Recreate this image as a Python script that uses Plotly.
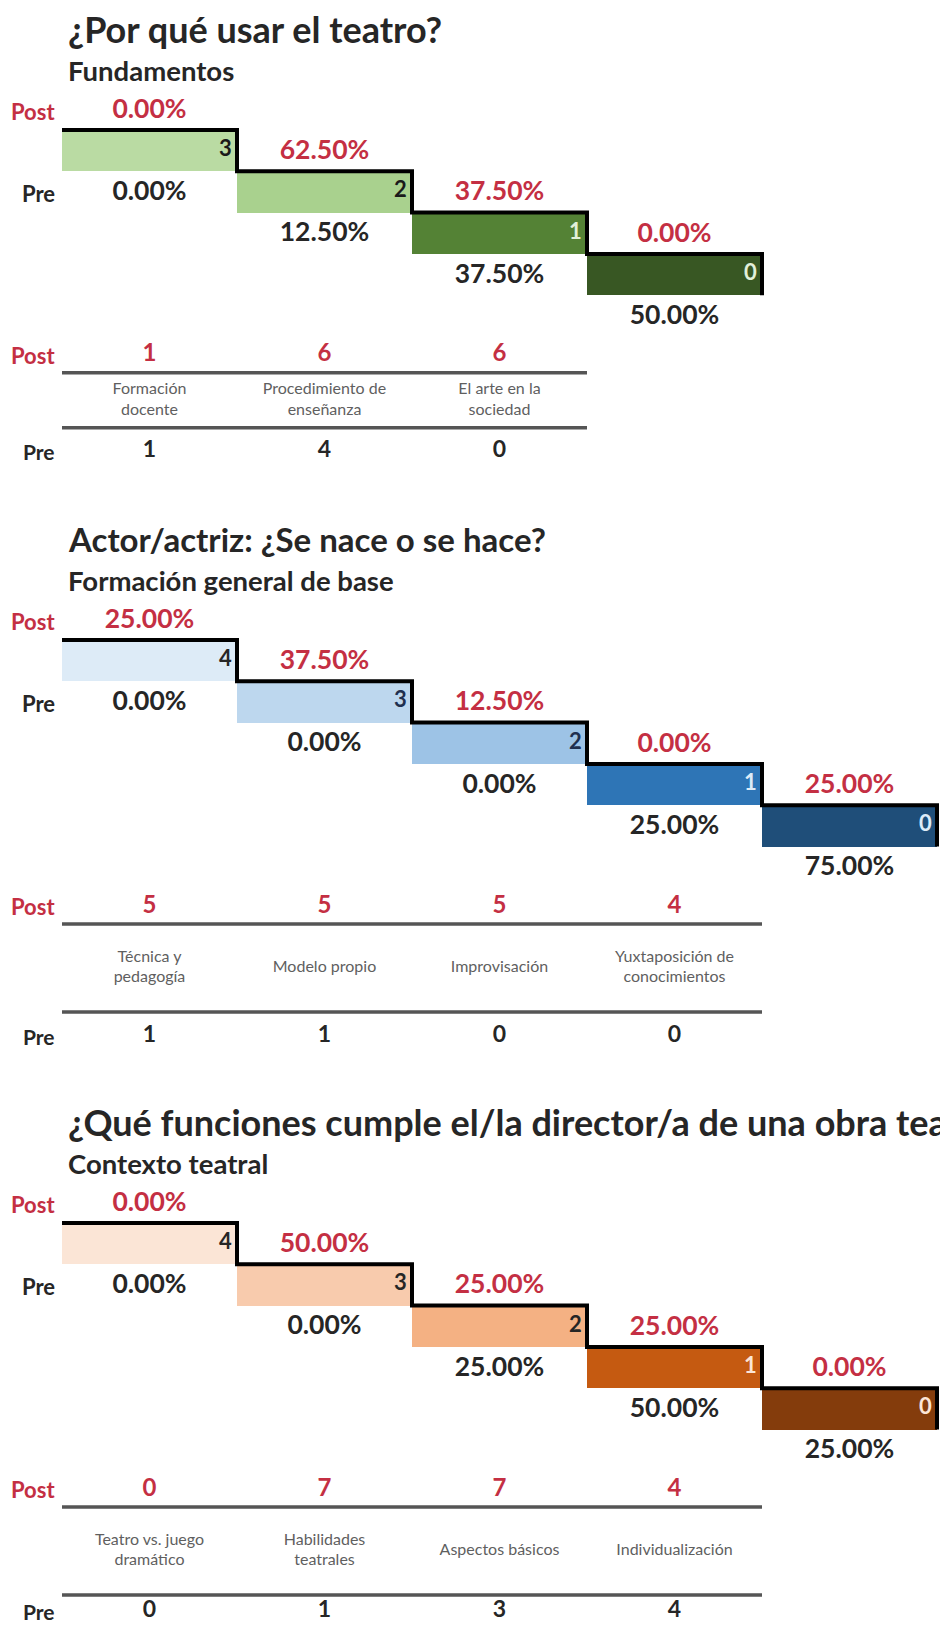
import numpy as np
import plotly.graph_objects as go

# ---------------- DATA ----------------
s1_title = "¿Por qué usar el teatro?"
s1_subtitle = "Fundamentos"
s1_levels = [3, 2, 1, 0]
s1_post_pct = [0.00, 62.50, 37.50, 0.00]
s1_pre_pct = [0.00, 12.50, 37.50, 50.00]
s1_categories = ["Formación<br>docente", "Procedimiento de<br>enseñanza", "El arte en la<br>sociedad"]
s1_post_counts = [1, 6, 6]
s1_pre_counts = [1, 4, 0]

s2_title = "Actor/actriz: ¿Se nace o se hace?"
s2_subtitle = "Formación general de base"
s2_levels = [4, 3, 2, 1, 0]
s2_post_pct = [25.00, 37.50, 12.50, 0.00, 25.00]
s2_pre_pct = [0.00, 0.00, 0.00, 25.00, 75.00]
s2_categories = ["Técnica y<br>pedagogía", "Modelo propio", "Improvisación", "Yuxtaposición de<br>conocimientos"]
s2_post_counts = [5, 5, 5, 4]
s2_pre_counts = [1, 1, 0, 0]

s3_title = "¿Qué funciones cumple el/la director/a de una obra teatral?"
s3_subtitle = "Contexto teatral"
s3_levels = [4, 3, 2, 1, 0]
s3_post_pct = [0.00, 50.00, 25.00, 25.00, 0.00]
s3_pre_pct = [0.00, 0.00, 25.00, 50.00, 25.00]
s3_categories = ["Teatro vs. juego<br>dramático", "Habilidades<br>teatrales", "Aspectos básicos", "Individualización"]
s3_post_counts = [0, 7, 7, 4]
s3_pre_counts = [0, 1, 3, 4]

# ---------------- STYLE ----------------
s1_colors = ["#BADBA3", "#A9D18E", "#548235", "#385723"]
s1_numcolors = ["#1A1A1A", "#1A1A1A", "#E2F0D9", "#E2F0D9"]
s2_colors = ["#DDEBF7", "#BDD7EE", "#9DC3E6", "#2E75B6", "#1F4E79"]
s2_numcolors = ["#262626", "#1F2F4F", "#1F2F4F", "#DDEBF7", "#DDEBF7"]
s3_colors = ["#FBE5D6", "#F8CBAD", "#F4B183", "#C55A11", "#843C0C"]
s3_numcolors = ["#262626", "#262626", "#262626", "#FBE5D6", "#FBE5D6"]

RED = "#C42F43"
BLACK = "#262626"
GRAY = "#5F5F5F"
FONT = "Lato"

FIG_W, FIG_H = 940, 1626
X0 = 62          # left edge of first bar (px)
BW = 175         # bar width (px)
STEP = 41.3      # step height (px)
TOPS = [130, 640, 1223]
TABLE_GAPS = [55, 88, 88]
PRE_OFFSETS = [24, 24, 16]
TITLE_SIZES = [36, 33, 36]

sections = [
    (s1_title, s1_subtitle, s1_levels, s1_post_pct, s1_pre_pct, s1_categories,
     s1_post_counts, s1_pre_counts, s1_colors, s1_numcolors),
    (s2_title, s2_subtitle, s2_levels, s2_post_pct, s2_pre_pct, s2_categories,
     s2_post_counts, s2_pre_counts, s2_colors, s2_numcolors),
    (s3_title, s3_subtitle, s3_levels, s3_post_pct, s3_pre_pct, s3_categories,
     s3_post_counts, s3_pre_counts, s3_colors, s3_numcolors),
]

fig = go.Figure()
annotations = []
layout_axes = {}


def u(px):
    return px / STEP


for k, (title, subtitle, levels, post_pct, pre_pct, cats, post_c, pre_c,
        colors, numcolors) in enumerate(sections):
    sfx = "" if k == 0 else str(k + 1)
    xa, ya = "x" + sfx, "y" + sfx
    T = TOPS[k]
    layout_axes["xaxis" + sfx] = dict(range=[-X0 / BW, (FIG_W - X0) / BW], domain=[0, 1],
                                      visible=False, fixedrange=True, anchor=ya)
    layout_axes["yaxis" + sfx] = dict(range=[(T - FIG_H) / STEP, T / STEP], domain=[0, 1],
                                      visible=False, fixedrange=True, anchor=xa)

    n = len(levels)
    idx = np.arange(n)

    # bars (steps)
    fig.add_trace(go.Bar(x=idx + 0.5, y=np.ones(n), base=-(idx + 1), width=1.0,
                         marker=dict(color=colors, line=dict(width=0)),
                         xaxis=xa, yaxis=ya, hoverinfo="skip", showlegend=False))
    # black stair line
    fig.add_trace(go.Scatter(x=np.arange(n + 1), y=-np.arange(n + 1), mode="lines",
                             line=dict(color="#000000", width=4, shape="hv"),
                             xaxis=xa, yaxis=ya, hoverinfo="skip", showlegend=False))
    # level numbers inside bars
    fig.add_trace(go.Scatter(x=idx + 1 - 0.03, y=-(idx + 0.5), mode="text",
                             text=[f"<b>{v}</b>" for v in levels], textposition="middle left",
                             textfont=dict(family=FONT, size=22, color=numcolors),
                             xaxis=xa, yaxis=ya, hoverinfo="skip", showlegend=False,
                             cliponaxis=False))
    # post percentages above
    fig.add_trace(go.Scatter(x=idx + 0.5, y=-idx + u(19), mode="text",
                             text=[f"<b>{v:.2f}%</b>" for v in post_pct], textposition="middle center",
                             textfont=dict(family=FONT, size=26.5, color=RED),
                             xaxis=xa, yaxis=ya, hoverinfo="skip", showlegend=False,
                             cliponaxis=False))
    # pre percentages below
    fig.add_trace(go.Scatter(x=idx + 0.5, y=-(idx + 1) - u(22), mode="text",
                             text=[f"<b>{v:.2f}%</b>" for v in pre_pct], textposition="middle center",
                             textfont=dict(family=FONT, size=26.5, color=BLACK),
                             xaxis=xa, yaxis=ya, hoverinfo="skip", showlegend=False,
                             cliponaxis=False))

    # row labels for the stairs
    rx = -5 / BW
    annotations.append(dict(x=rx, y=u(19), xref=xa, yref=ya, text="<b>Post</b>", showarrow=False,
                            xanchor="right", yanchor="middle",
                            font=dict(family=FONT, size=22, color=RED)))
    annotations.append(dict(x=rx, y=-1 - u(22), xref=xa, yref=ya, text="<b>Pre</b>", showarrow=False,
                            xanchor="right", yanchor="middle",
                            font=dict(family=FONT, size=22, color=BLACK)))

    # titles
    annotations.append(dict(x=(66 - X0) / BW, y=u(101), xref=xa, yref=ya, text=f"<b>{title}</b>",
                            showarrow=False, xanchor="left", yanchor="middle",
                            font=dict(family=FONT, size=TITLE_SIZES[k], color=BLACK)))
    annotations.append(dict(x=(66 - X0) / BW, y=u(60), xref=xa, yref=ya, text=f"<b>{subtitle}</b>",
                            showarrow=False, xanchor="left", yanchor="middle",
                            font=dict(family=FONT, size=27.5, color=BLACK)))

    # table
    m = len(cats)
    cidx = np.arange(m)
    bottom = -n
    post_y = bottom - u(60)
    line1 = bottom - u(77.5)
    line2 = line1 - u(TABLE_GAPS[k])
    cat_y = (line1 + line2) / 2
    pre_y = line2 - u(PRE_OFFSETS[k])

    for ly in (line1, line2):
        fig.add_trace(go.Scatter(x=[0, m], y=[ly, ly], mode="lines",
                                 line=dict(color="#555555", width=3.5),
                                 xaxis=xa, yaxis=ya, hoverinfo="skip", showlegend=False))
    fig.add_trace(go.Scatter(x=cidx + 0.5, y=np.full(m, post_y), mode="text",
                             text=[f"<b>{v}</b>" for v in post_c], textposition="middle center",
                             textfont=dict(family=FONT, size=24, color=RED),
                             xaxis=xa, yaxis=ya, hoverinfo="skip", showlegend=False, cliponaxis=False))
    fig.add_trace(go.Scatter(x=cidx + 0.5, y=np.full(m, cat_y), mode="text",
                             text=cats, textposition="middle center",
                             textfont=dict(family=FONT, size=16, color=GRAY),
                             xaxis=xa, yaxis=ya, hoverinfo="skip", showlegend=False, cliponaxis=False))
    fig.add_trace(go.Scatter(x=cidx + 0.5, y=np.full(m, pre_y), mode="text",
                             text=[f"<b>{v}</b>" for v in pre_c], textposition="middle center",
                             textfont=dict(family=FONT, size=23, color=BLACK),
                             xaxis=xa, yaxis=ya, hoverinfo="skip", showlegend=False, cliponaxis=False))
    annotations.append(dict(x=rx, y=post_y, xref=xa, yref=ya, text="<b>Post</b>", showarrow=False,
                            xanchor="right", yanchor="middle",
                            font=dict(family=FONT, size=22, color=RED)))
    annotations.append(dict(x=rx, y=pre_y, xref=xa, yref=ya, text="<b>Pre</b>", showarrow=False,
                            xanchor="right", yanchor="middle",
                            font=dict(family=FONT, size=21, color=BLACK)))

fig.update_layout(
    width=FIG_W, height=FIG_H,
    margin=dict(l=0, r=0, t=0, b=0),
    paper_bgcolor="white", plot_bgcolor="rgba(0,0,0,0)",
    showlegend=False, bargap=0,
    annotations=annotations,
    **layout_axes,
)

fig.write_html("out.html", config={"displayModeBar": False},
               post_script="document.body.style.margin='0';document.body.style.overflow='hidden';")
